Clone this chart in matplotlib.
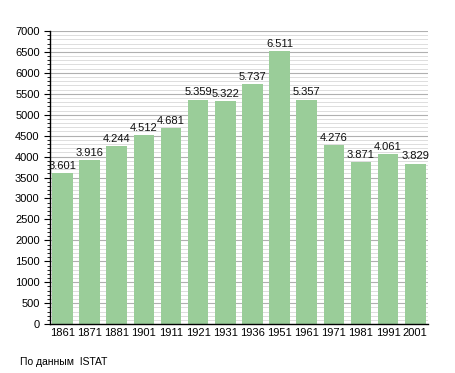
import matplotlib
matplotlib.use("Agg")
import matplotlib.pyplot as plt
from matplotlib.ticker import MultipleLocator

years = ["1861", "1871", "1881", "1901", "1911", "1921", "1931", "1936", "1951", "1961", "1971", "1981", "1991", "2001"]
population = [3601, 3916, 4244, 4512, 4681, 5359, 5322, 5737, 6511, 5357, 4276, 3871, 4061, 3829]
source_note = "По данным  ISTAT"

plt.rcParams['font.family'] = ['Liberation Sans', 'DejaVu Sans']
fig = plt.figure(figsize=(4.55, 3.73), dpi=100)
ax = fig.add_axes([0.110, 0.131, 0.830, 0.786])

x = list(range(len(years)))
ax.bar(x, population, width=0.76, color="#9acd99", zorder=2)
for xi, v in zip(x, population):
    ax.text(xi, v + 55, f"{v:,}".replace(",", "."), ha="center", va="bottom", fontsize=8, color="#111111", zorder=3)

ax.set_xlim(-0.46, len(years) - 0.54)
ax.set_ylim(0, 7000)
ax.yaxis.set_major_locator(MultipleLocator(500))
ax.yaxis.set_minor_locator(MultipleLocator(100))
ax.grid(which="major", axis="y", color="#b0b0b0", linewidth=0.8, zorder=0)
ax.grid(which="minor", axis="y", color="#d8d8d8", linewidth=0.6, zorder=0)
ax.set_xticks(x)
ax.set_xticklabels(years)
ax.tick_params(axis="x", length=0, labelsize=8, pad=3)
ax.tick_params(axis="y", which="major", length=4, width=0.8, labelsize=8, direction="out")
ax.tick_params(axis="y", which="minor", length=2, width=0.6, direction="out")
for s in ["top", "right"]:
    ax.spines[s].set_visible(False)
ax.spines["left"].set_linewidth(1.0)
ax.spines["bottom"].set_linewidth(1.0)

fig.text(20 / 455, 1 - 362 / 373, source_note, fontsize=7.5, va="center", ha="left")
fig.savefig("out.png", dpi=100)
